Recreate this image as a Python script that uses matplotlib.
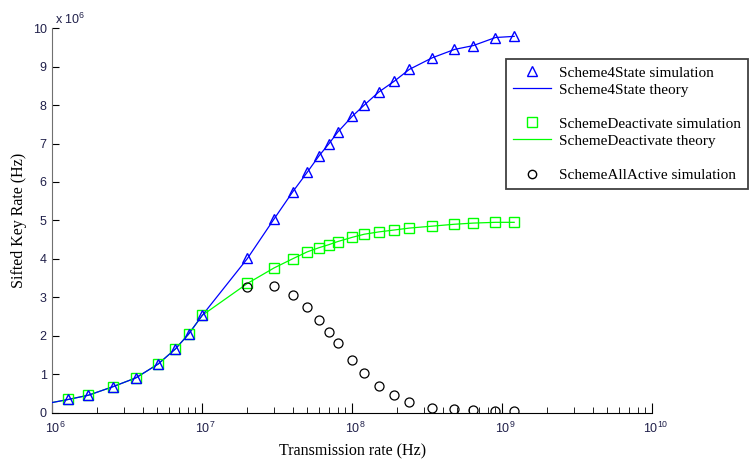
import numpy as np
import matplotlib
matplotlib.use("Agg")
import matplotlib.pyplot as plt
import matplotlib.transforms as mtransforms
from matplotlib.lines import Line2D
from matplotlib.ticker import LogLocator, FixedLocator

# Data (rates in Hz, key rates in units of 1e6 Hz)
rate_low = [1.28e6, 1.74e6, 2.53e6, 3.6e6, 5.07e6, 6.6e6, 8.1e6, 1.0e7]
rate_high = [2e7, 3e7, 4e7, 5e7, 6e7, 7e7, 8e7, 1e8, 1.2e8, 1.5e8, 1.9e8,
             2.4e8, 3.4e8, 4.8e8, 6.4e8, 9e8, 1.2e9]

low_sim = [0.34, 0.45, 0.67, 0.90, 1.26, 1.65, 2.04, 2.53]

state4_sim = [4.01, 5.03, 5.74, 6.25, 6.68, 7.00, 7.30, 7.71, 8.00, 8.34, 8.62,
              8.93, 9.23, 9.45, 9.55, 9.76, 9.79]
deact_sim = [3.36, 3.76, 4.00, 4.18, 4.29, 4.37, 4.45, 4.56, 4.64, 4.70, 4.75,
             4.80, 4.85, 4.90, 4.93, 4.95, 4.95]
allact_sim = [3.26, 3.30, 3.07, 2.75, 2.42, 2.09, 1.80, 1.36, 1.02, 0.70, 0.45,
              0.28, 0.13, 0.09, 0.065, 0.05, 0.04]

theory_rate = [1e6] + rate_low + rate_high
state4_theory = [0.26, 0.34, 0.45, 0.67, 0.90, 1.26, 1.65, 2.04, 2.53,
                 4.01, 5.03, 5.74, 6.25, 6.68, 7.00, 7.30, 7.71, 8.00, 8.34, 8.62,
                 8.93, 9.23, 9.45, 9.55, 9.76, 9.79]
deact_theory = [0.26, 0.34, 0.45, 0.67, 0.90, 1.26, 1.65, 2.04, 2.53,
                3.36, 3.76, 4.00, 4.18, 4.29, 4.37, 4.45, 4.56, 4.64, 4.70, 4.75,
                4.80, 4.85, 4.90, 4.93, 4.95, 4.95]

serif = "Liberation Serif"
sans = "Liberation Sans"
tick_col = "#20204a"

plt.rcParams["mathtext.fontset"] = "custom"
plt.rcParams["mathtext.rm"] = sans
plt.rcParams["mathtext.it"] = sans

fig = plt.figure(figsize=(7.5, 4.59), dpi=100)
ax = fig.add_axes([52.3 / 750, 1 - 412.5 / 459, 600 / 750, (412.5 - 28.3) / 459])

ax.plot(theory_rate, deact_theory, color="#00ff00", lw=0.9, zorder=2)
ax.plot(theory_rate, state4_theory, color="#0000ff", lw=0.9, zorder=3)

ax.plot(rate_low + rate_high, low_sim + deact_sim, ls="none", marker="s", ms=6.5,
        mfc="none", mec="#00ff00", mew=1.0, zorder=4)
ax.plot(rate_low + rate_high, low_sim + state4_sim, ls="none", marker="^", ms=7,
        mfc="none", mec="#0000ff", mew=1.0, zorder=5)
ax.plot(rate_high, allact_sim, ls="none", marker="o", ms=6.5,
        mfc="none", mec="black", mew=0.9, zorder=6)

ax.set_xscale("log")
ax.set_xlim(1e6, 1e10)
ax.set_ylim(0, 10)
ax.yaxis.set_major_locator(FixedLocator(range(0, 11)))
ax.xaxis.set_minor_locator(LogLocator(base=10, subs=np.arange(2, 10)))

for s in ["top", "right"]:
    ax.spines[s].set_visible(False)
ax.spines["left"].set_color("#707070")
ax.spines["bottom"].set_color("black")

ax.tick_params(axis="both", which="both", direction="in", colors="black",
               labelcolor=tick_col, labelsize=9)
ax.tick_params(axis="y", which="major", length=5, pad=4)
ax.tick_params(axis="x", which="major", length=7, pad=6)
ax.tick_params(axis="x", which="minor", length=4)
for lab in ax.get_yticklabels():
    lab.set_fontfamily(sans)
# the "10" sits on the tick, exponent hangs to the right
shift = mtransforms.ScaledTranslation(3 / 100, 0, fig.dpi_scale_trans)
for lab in ax.get_xticklabels():
    lab.set_fontfamily(sans)
    lab.set_transform(lab.get_transform() + shift)

fig.text(55 / 750, 1 - 19 / 459, r"x 10$^{6}$", fontsize=9, color=tick_col,
         family=sans, va="center", ha="left")

ax.set_xlabel("Transmission rate (Hz)", family=serif, fontsize=11.5, labelpad=5)
ax.set_ylabel("Sifted Key Rate (Hz)", family=serif, fontsize=11.5, labelpad=4)

blank = Line2D([], [], ls="none")
handles = [
    Line2D([], [], ls="none", marker="^", ms=7, mfc="none", mec="#0000ff"),
    Line2D([], [], color="#0000ff", lw=0.9),
    blank,
    Line2D([], [], ls="none", marker="s", ms=6.5, mfc="none", mec="#00ff00"),
    Line2D([], [], color="#00ff00", lw=0.9),
    blank,
    Line2D([], [], ls="none", marker="o", ms=6, mfc="none", mec="black"),
]
labels = ["Scheme4State simulation", "Scheme4State theory", " ",
          "SchemeDeactivate simulation", "SchemeDeactivate theory", " ",
          "SchemeAllActive simulation"]
leg = fig.legend(handles, labels, loc="upper left",
                 bbox_to_anchor=(506 / 750, 1 - 59 / 459),
                 prop={"family": serif, "size": 11}, frameon=True,
                 fancybox=False, framealpha=1, edgecolor="#404040",
                 borderpad=0.45, labelspacing=0.22, handlelength=2.5,
                 handletextpad=0.5, borderaxespad=0)
leg.get_frame().set_linewidth(1.3)

fig.savefig("out.png", dpi=100)
